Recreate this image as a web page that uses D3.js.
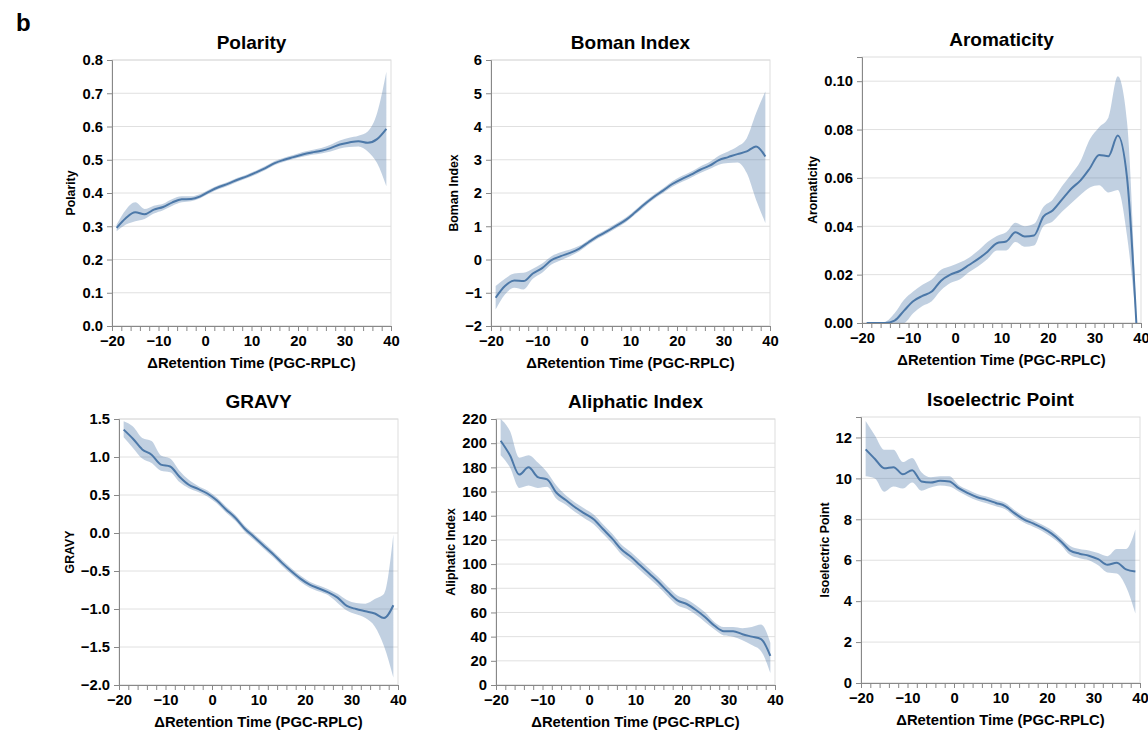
<!DOCTYPE html>
<html><head><meta charset="utf-8">
<script src="https://cdn.jsdelivr.net/npm/d3@7"></script>
<style>
body{margin:0;background:#fff}
svg{display:block}
text{font-family:"Liberation Sans",Arial,Helvetica,sans-serif}
</style>
</head><body>
<svg id="c" width="1148" height="734"></svg>
<script>
// ---- data ----
const retentionTime = [-19,-17,-15,-13,-11,-9,-7,-5,-3,-1,1,3,5,7,9,11,13,15,17,19,21,23,25,27,29,31,33,35,37,39];
const xTickValues = [-20,-18,-16,-14,-12,-10,-8,-6,-4,-2,0,2,4,6,8,10,12,14,16,18,20,22,24,26,28,30,32,34,36,38,40];
const xLabelValues = [-20,-10,0,10,20,30,40];

const polarityMean = [0.295,0.325,0.342,0.336,0.350,0.358,0.372,0.381,0.382,0.390,0.405,0.418,0.428,0.440,0.450,0.462,0.475,0.490,0.500,0.508,0.516,0.522,0.527,0.535,0.546,0.552,0.556,0.551,0.562,0.593];
const polarityLow  = [0.285,0.305,0.315,0.322,0.338,0.348,0.362,0.372,0.375,0.384,0.399,0.412,0.422,0.434,0.444,0.456,0.469,0.484,0.494,0.502,0.509,0.515,0.519,0.525,0.534,0.538,0.540,0.525,0.490,0.420];
const polarityHigh = [0.305,0.350,0.372,0.352,0.362,0.368,0.382,0.390,0.390,0.397,0.411,0.424,0.434,0.446,0.456,0.468,0.481,0.496,0.506,0.514,0.523,0.529,0.535,0.545,0.558,0.566,0.572,0.585,0.640,0.765];
const polarityTicks = [0,0.1,0.2,0.3,0.4,0.5,0.6,0.7,0.8];

const bomanMean = [-1.15,-0.80,-0.63,-0.65,-0.42,-0.26,-0.02,0.10,0.20,0.33,0.52,0.70,0.85,1.02,1.19,1.42,1.66,1.88,2.07,2.27,2.42,2.55,2.70,2.82,2.99,3.08,3.17,3.25,3.40,3.10];
const bomanLow  = [-1.50,-1.05,-0.85,-0.90,-0.58,-0.40,-0.15,-0.02,0.10,0.25,0.45,0.63,0.78,0.95,1.12,1.35,1.59,1.81,2.00,2.19,2.33,2.46,2.60,2.72,2.85,2.90,2.92,2.60,1.80,1.10];
const bomanHigh = [-0.80,-0.58,-0.42,-0.40,-0.28,-0.12,0.10,0.22,0.30,0.41,0.59,0.77,0.92,1.09,1.26,1.49,1.73,1.95,2.14,2.35,2.51,2.64,2.80,2.93,3.12,3.25,3.40,3.65,4.40,5.05];
const bomanTicks = [-2,-1,0,1,2,3,4,5,6];

const aromaticityMean = [0,0,0,0.001,0.005,0.009,0.0112,0.013,0.0175,0.020,0.0215,0.024,0.0265,0.0295,0.0330,0.0337,0.0375,0.0358,0.0362,0.0440,0.0465,0.0510,0.0555,0.0590,0.0640,0.0695,0.0690,0.0775,0.060,0];
const aromaticityLow  = [0,0,0,0,0,0.004,0.007,0.009,0.0135,0.0165,0.018,0.021,0.0235,0.0265,0.030,0.030,0.0335,0.0315,0.032,0.040,0.042,0.046,0.0495,0.053,0.056,0.057,0.054,0.055,0.036,0];
const aromaticityHigh = [0,0,0.0005,0.004,0.0095,0.013,0.0158,0.018,0.022,0.0235,0.025,0.027,0.030,0.0335,0.036,0.0375,0.0415,0.040,0.041,0.048,0.051,0.0565,0.0615,0.067,0.076,0.081,0.085,0.102,0.083,0];
const aromaticityTicks = [0,0.02,0.04,0.06,0.08,0.10];

const gravyMean = [1.36,1.24,1.10,1.03,0.90,0.875,0.74,0.635,0.58,0.52,0.43,0.31,0.20,0.06,-0.05,-0.16,-0.27,-0.39,-0.50,-0.60,-0.68,-0.73,-0.78,-0.85,-0.96,-1.00,-1.03,-1.06,-1.12,-0.95];
const gravyLow  = [1.26,1.12,0.98,0.92,0.82,0.80,0.67,0.59,0.54,0.48,0.39,0.27,0.16,0.02,-0.09,-0.20,-0.31,-0.43,-0.54,-0.64,-0.72,-0.77,-0.82,-0.92,-1.02,-1.07,-1.12,-1.23,-1.49,-1.90];
const gravyHigh = [1.47,1.40,1.25,1.21,1.02,0.98,0.82,0.70,0.62,0.56,0.47,0.35,0.24,0.10,-0.01,-0.12,-0.23,-0.35,-0.46,-0.56,-0.64,-0.69,-0.74,-0.80,-0.88,-0.92,-0.93,-0.87,-0.80,-0.02];
const gravyTicks = [-2.0,-1.5,-1.0,-0.5,0.0,0.5,1.0,1.5];

const aliphaticMean = [202,190,174,180,172,170,159,153,147,142,137,129,121,112,106,99,92,85,77,70,67,62,56,49,44.5,44.5,42,40,38,24];
const aliphaticLow  = [190,180,163,165,163,164,154,149,143,138,133,125,117,108,102,95,88,81,73,66,63,58,52,46,41,40,37,33,28,10];
const aliphaticHigh = [220,210,188,190,184,176,165,157,151,146,141,133,125,116,110,103,96,89,81,74,71,66,60,52,48,48,47,48,50,35];
const aliphaticTicks = [0,20,40,60,80,100,120,140,160,180,200,220];

const isoelectricMean = [11.42,10.95,10.50,10.55,10.20,10.40,9.85,9.80,9.88,9.85,9.52,9.28,9.08,8.95,8.80,8.65,8.30,8.00,7.80,7.58,7.30,6.92,6.47,6.32,6.22,6.05,5.78,5.88,5.55,5.45];
const isoelectricLow  = [10.10,10.00,9.35,9.60,9.50,9.80,9.40,9.55,9.65,9.60,9.36,9.12,8.92,8.79,8.64,8.49,8.14,7.84,7.64,7.42,7.12,6.75,6.25,6.10,6.00,5.75,5.40,5.35,4.70,3.40];
const isoelectricHigh = [12.80,12.10,11.40,11.40,10.80,11.00,10.30,10.05,10.10,10.10,9.68,9.44,9.24,9.11,8.96,8.81,8.46,8.16,7.96,7.74,7.48,7.10,6.70,6.55,6.48,6.35,6.20,6.55,6.55,7.50];
const isoelectricTicks = [0,2,4,6,8,10,12];

// ---- layout ----
const panels = [
  {title:"Polarity", yLabel:"Polarity", mean:polarityMean, low:polarityLow, high:polarityHigh, yDomain:[0,0.8], yTicks:polarityTicks, fmt:".1f", L:112, R:391, T:60, B:326},
  {title:"Boman Index", yLabel:"Boman Index", mean:bomanMean, low:bomanLow, high:bomanHigh, yDomain:[-2,6], yTicks:bomanTicks, fmt:"d", L:491, R:770, T:60, B:326},
  {title:"Aromaticity", yLabel:"Aromaticity", mean:aromaticityMean, low:aromaticityLow, high:aromaticityHigh, yDomain:[0,0.11], yTicks:aromaticityTicks, fmt:".2f", L:862, R:1141, T:57, B:323},
  {title:"GRAVY", yLabel:"GRAVY", mean:gravyMean, low:gravyLow, high:gravyHigh, yDomain:[-2,1.5], yTicks:gravyTicks, fmt:".1f", L:119, R:398, T:419, B:685},
  {title:"Aliphatic Index", yLabel:"Aliphatic Index", mean:aliphaticMean, low:aliphaticLow, high:aliphaticHigh, yDomain:[0,220], yTicks:aliphaticTicks, fmt:"d", L:496, R:775, T:419, B:685},
  {title:"Isoelectric Point", yLabel:"Isoelectric Point", mean:isoelectricMean, low:isoelectricLow, high:isoelectricHigh, yDomain:[0,13], yTicks:isoelectricTicks, fmt:"d", L:861, R:1140, T:417, B:683}
];

const svg = d3.select("#c");
const BLUE = "#4c78a8";
const FONT = "'Liberation Sans',Arial,Helvetica,sans-serif";

svg.append("text").attr("x",16).attr("y",31).attr("font-size",24).attr("font-weight","bold").text("b");

panels.forEach(p => {
  const x = d3.scaleLinear().domain([-20,40]).range([p.L,p.R]);
  const y = d3.scaleLinear().domain(p.yDomain).range([p.B,p.T]);
  const g = svg.append("g");
  const fmt = d3.format(p.fmt);

  // gridlines
  g.selectAll("line.grid").data(p.yTicks).join("line")
    .attr("x1",p.L).attr("x2",p.R).attr("y1",d=>y(d)).attr("y2",d=>y(d))
    .attr("stroke","#e0e0e0").attr("stroke-width",1);
  // view border
  g.append("rect").attr("x",p.L).attr("y",p.T).attr("width",p.R-p.L).attr("height",p.B-p.T)
    .attr("fill","none").attr("stroke","#dddddd");

  const data = retentionTime.map((t,i)=>({t, m:p.mean[i], lo:p.low[i], hi:p.high[i]}));
  const area = d3.area().x(d=>x(d.t)).y0(d=>y(d.lo)).y1(d=>y(d.hi)).curve(d3.curveMonotoneX);
  const line = d3.line().x(d=>x(d.t)).y(d=>y(d.m)).curve(d3.curveMonotoneX);
  g.append("path").datum(data).attr("d",area).attr("fill",BLUE).attr("fill-opacity",0.35);
  g.append("path").datum(data).attr("d",line).attr("fill","none").attr("stroke",BLUE).attr("stroke-width",2);

  // x axis
  const xa = g.append("g").attr("transform",`translate(0,${p.B})`)
    .call(d3.axisBottom(x).tickValues(xTickValues).tickSize(5).tickFormat(d=>xLabelValues.includes(d)?d3.format("d")(d):""));
  xa.select(".domain").attr("stroke","#888");
  xa.selectAll(".tick line").attr("stroke","#888");
  xa.selectAll(".tick text").attr("font-size",14.8).attr("font-weight","bold").attr("fill","#000")
    .attr("font-family",FONT).attr("dy",0).attr("y",20);

  // y axis
  const ya = g.append("g").attr("transform",`translate(${p.L},0)`)
    .call(d3.axisLeft(y).tickValues(p.yTicks).tickSize(5).tickPadding(4).tickFormat(fmt));
  ya.select(".domain").attr("stroke","#888");
  ya.selectAll(".tick line").attr("stroke","#888");
  ya.selectAll(".tick text").attr("font-size",14.8).attr("font-weight","bold").attr("fill","#000")
    .attr("font-family",FONT);

  let maxW = 0;
  ya.selectAll(".tick text").each(function(){ maxW = Math.max(maxW, this.getComputedTextLength()); });

  // titles
  g.append("text").attr("x",(p.L+p.R)/2).attr("y",p.T-11).attr("text-anchor","middle")
    .attr("font-size",19).attr("font-weight","bold").text(p.title);
  g.append("text").attr("x",(p.L+p.R)/2).attr("y",p.B+42).attr("text-anchor","middle")
    .attr("font-size",14.8).attr("font-weight","bold").text("ΔRetention Time (PGC-RPLC)");
  const yc = (p.T+p.B)/2;
  const yx = p.L - maxW - 16;
  g.append("text").attr("transform",`translate(${yx},${yc}) rotate(-90)`).attr("text-anchor","middle")
    .attr("font-size",12.3).attr("font-weight","bold").text(p.yLabel);
});
</script>
</body></html>
